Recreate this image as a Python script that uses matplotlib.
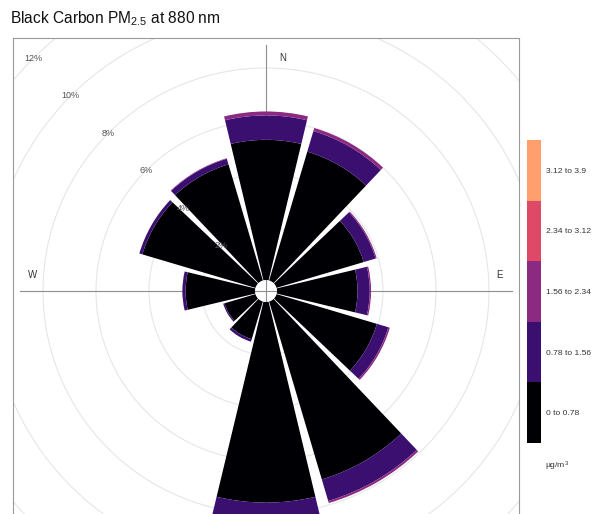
import numpy as np
import matplotlib
matplotlib.use("Agg")
import matplotlib.pyplot as plt
from matplotlib.patches import Wedge, Circle
from matplotlib.colors import ListedColormap, BoundaryNorm
from matplotlib.cm import ScalarMappable

plt.rcParams['font.family'] = ['Liberation Sans', 'DejaVu Sans']
plt.rcParams['mathtext.fontset'] = 'custom'
plt.rcParams['mathtext.rm'] = 'Liberation Sans'
plt.rcParams['mathtext.it'] = 'Liberation Sans:italic'
plt.rcParams['mathtext.bf'] = 'Liberation Sans:bold'

# ---------------- data ----------------
directions = [0, 30, 60, 90, 120, 150, 180, 210, 240, 270, 300, 330]
bin_labels = ["0 to 0.78", "0.78 to 1.56", "1.56 to 2.34", "2.34 to 3.12", "3.12 to 3.9"]
bin_colors = ["#000004", "#3B0F70", "#8C2981", "#DE4968", "#FE9F6D"]
# frequency (%) in each concentration bin, per direction
freq_bin1 = [5.29, 5.07, 3.43, 3.04, 3.95, 7.00, 7.57, 1.48, 1.22, 2.62, 4.45, 4.57]
freq_bin2 = [0.92, 0.81, 0.47, 0.46, 0.45, 0.85, 0.95, 0.10, 0.05, 0.12, 0.12, 0.22]
freq_bin3 = [0.15, 0.12, 0.04, 0.05, 0.06, 0.08, 0.10, 0.00, 0.00, 0.00, 0.00, 0.02]
freq_bin4 = [0.00, 0.00, 0.00, 0.00, 0.00, 0.00, 0.00, 0.00, 0.00, 0.00, 0.00, 0.00]
freq_bin5 = [0.00, 0.00, 0.00, 0.00, 0.00, 0.00, 0.00, 0.00, 0.00, 0.00, 0.00, 0.00]
grid_levels = [2, 4, 6, 8, 10, 12]
compass_labels = ["N", "E", "W"]
compass_bearings = [0, 90, 270]
title = "Black Carbon PM$_{2.5}$ at 880 nm"
units_label = "\u00b5g/m$^{3}$"

# ---------------- layout ----------------
W, H = 603, 514
fig = plt.figure(figsize=(W / 100, H / 100), dpi=100)
PX = 26.5            # pixels per percent
cx, cy = 266, 291    # centre in pixels
half = 253           # half panel size in pixels
ax = fig.add_axes([(cx - half) / W, (H - cy - half) / H, 2 * half / W, 2 * half / H])
lim = half / PX
ax.set_xlim(-lim, lim)
ax.set_ylim(-lim, lim)
ax.set_xticks([])
ax.set_yticks([])
for s in ax.spines.values():
    s.set_color('#9a9a9a')
    s.set_linewidth(0.8)

off = 11 / PX  # central hole

# grid circles
for g in grid_levels:
    ax.add_patch(Circle((0, 0), off + g, fill=False, ec='#e6e6e6', lw=0.8, zorder=1))

# cross lines
L = 246 / PX
ax.plot([-L, L], [0, 0], color='#8f8f8f', lw=0.8, zorder=1.5)
ax.plot([0, 0], [-L, L], color='#8f8f8f', lw=0.8, zorder=1.5)

# bars
hw = 13.5
bins = [freq_bin1, freq_bin2, freq_bin3, freq_bin4, freq_bin5]
for i, d in enumerate(directions):
    base = 0.0
    t1 = 90 - d - hw
    t2 = 90 - d + hw
    for b, col in zip(bins, bin_colors):
        v = b[i]
        if v <= 0:
            continue
        ax.add_patch(Wedge((0, 0), off + base + v, t1, t2, width=v,
                           fc=col, ec='none', lw=0, zorder=2))
        base += v

# percent labels along NW diagonal
for g in grid_levels:
    r = off + g
    ax.text(-r * np.sin(np.pi / 4), r * np.cos(np.pi / 4), f"{g}%",
            fontsize=6.5, color='#555555', ha='center', va='center', zorder=3)

# compass labels
rl = 233.5 / PX
pd = 0.62
for lab, b in zip(compass_labels, compass_bearings):
    a = np.deg2rad(b)
    if b in (90, 270):
        x, y = rl * np.sin(a), pd
    else:
        x, y = pd, rl * np.cos(a)
    ax.text(x, y, lab, fontsize=7, color='#333333', ha='center', va='center', zorder=3)

# colour key
cax = fig.add_axes([526.7 / W, (H - 443) / H, 14.3 / W, 303 / H])
cmap = ListedColormap(bin_colors)
norm = BoundaryNorm(np.arange(6), 5)
cb = fig.colorbar(ScalarMappable(norm=norm, cmap=cmap), cax=cax,
                  ticks=np.arange(5) + 0.5)
cb.set_ticklabels(bin_labels)
cb.outline.set_visible(False)
cax.minorticks_off()
cax.tick_params(which='both', length=0, pad=3.5, labelsize=6.1, labelcolor='#333333')
fig.text(545 / W, 1 - 466 / H, units_label, fontsize=6.1, color='#333333', va='center')

# title
fig.text(10 / W, 1 - 23 / H, title, fontsize=11.2, va='baseline', color='#111111')

fig.savefig("out.png", dpi=100)
